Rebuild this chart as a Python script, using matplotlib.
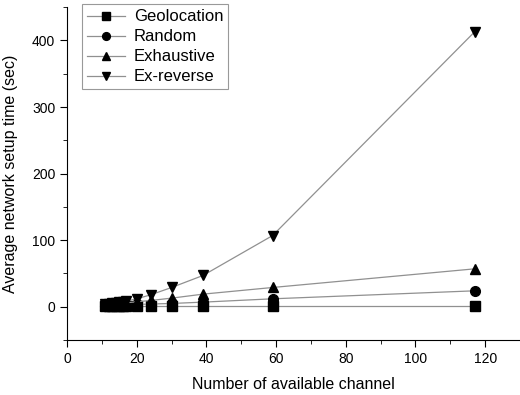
import matplotlib
matplotlib.use("Agg")
import matplotlib.pyplot as plt
from matplotlib.ticker import MultipleLocator

plt.rcParams["font.family"] = ["Liberation Sans", "DejaVu Sans"]

channels = [11, 12, 13, 14, 15, 16, 17, 20, 24, 30, 39, 59, 117]
geolocation = [0.5, 0.5, 0.5, 0.5, 0.5, 0.5, 0.5, 0.5, 0.5, 0.5, 0.5, 0.5, 0.5]
random_sel = [1.5, 1.7, 2.0, 2.2, 2.5, 2.7, 3.0, 3.5, 4.2, 5.0, 7.0, 12.0, 24.0]
exhaustive = [3.0, 3.5, 4.0, 4.5, 5.0, 5.5, 6.0, 7.5, 9.5, 13.0, 19.0, 29.0, 57.0]
ex_reverse = [3.5, 4.0, 5.0, 5.5, 6.5, 7.5, 8.5, 12.0, 18.0, 29.0, 47.0, 107.0, 413.0]

series = [
    ("Geolocation", geolocation, "s"),
    ("Random", random_sel, "o"),
    ("Exhaustive", exhaustive, "^"),
    ("Ex-reverse", ex_reverse, "v"),
]

fig = plt.figure(figsize=(5.2, 3.95), dpi=100)
ax = fig.add_axes([0.129, 0.139, 0.871, 0.843])

for name, vals, mk in series:
    ax.plot(channels, vals, color="#909090", linewidth=0.9,
            marker=mk, markersize=7, markerfacecolor="black",
            markeredgecolor="black", label=name)

ax.set_xlim(0, 130)
ax.set_ylim(-50, 450)
ax.xaxis.set_major_locator(MultipleLocator(20))
ax.xaxis.set_minor_locator(MultipleLocator(10))
ax.yaxis.set_major_locator(MultipleLocator(100))
ax.yaxis.set_minor_locator(MultipleLocator(50))
ax.spines["top"].set_visible(False)
ax.spines["right"].set_visible(False)
ax.tick_params(which="major", direction="out", length=5, labelsize=10)
ax.tick_params(which="minor", direction="out", length=3)

ax.set_xlabel("Number of available channel", fontsize=11.5, labelpad=8)
ax.set_ylabel("Average network setup time (sec)", fontsize=11.5, labelpad=10)

leg = ax.legend(loc="upper left", bbox_to_anchor=(0.033, 1.008), fontsize=12,
                frameon=True, fancybox=False, edgecolor="#808080",
                handlelength=2.3, handletextpad=0.5, borderpad=0.3,
                labelspacing=0.3, borderaxespad=0, markerscale=0.8)
leg.get_frame().set_linewidth(0.8)

fig.savefig("out.png", dpi=100)
